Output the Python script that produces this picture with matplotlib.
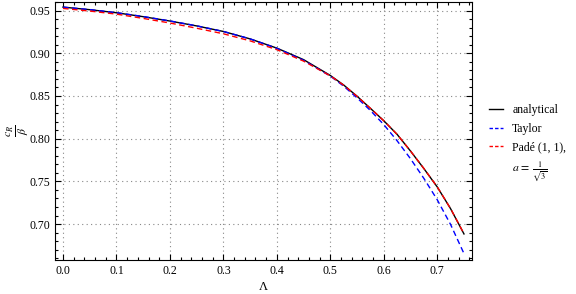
import numpy as np
import matplotlib
matplotlib.use("Agg")
import matplotlib.pyplot as plt
from matplotlib.lines import Line2D
from matplotlib.ticker import MultipleLocator, FormatStrFormatter

plt.rcParams['font.family'] = ['Liberation Serif', 'DejaVu Serif']
plt.rcParams['mathtext.fontset'] = 'stix'

# values
lam = [0.0, 0.05, 0.10, 0.15, 0.20, 0.25, 0.30, 0.35, 0.40, 0.45, 0.50,
       0.525, 0.55, 0.575, 0.60, 0.625, 0.65, 0.675, 0.70, 0.725, 0.75]
analytical = [0.9540, 0.9510, 0.9474, 0.9428, 0.9377, 0.9320, 0.9255, 0.9168, 0.9060, 0.8925, 0.8740,
              0.8628, 0.8497, 0.8355, 0.8210, 0.8050, 0.7855, 0.7650, 0.7435, 0.7180, 0.6885]
taylor = [0.9540, 0.9511, 0.9475, 0.9430, 0.9378, 0.9321, 0.9255, 0.9168, 0.9058, 0.8918, 0.8733,
          0.8615, 0.8478, 0.8330, 0.8165, 0.7975, 0.7765, 0.7535, 0.7285, 0.6995, 0.6655]
pade = [0.9525, 0.9494, 0.9458, 0.9408, 0.9354, 0.9293, 0.9228, 0.9145, 0.9042, 0.8908, 0.8735,
        0.8626, 0.8496, 0.8355, 0.8210, 0.8050, 0.7856, 0.7651, 0.7436, 0.7181, 0.6887]

fig = plt.figure(figsize=(5.76, 2.94), dpi=100)
ax = fig.add_axes([55/576, 34/294, 417/576, 258/294])

ax.plot(lam, analytical, color='black', lw=1.0)
ax.plot(lam, taylor, color='blue', lw=1.0, ls=(0, (4, 2.5)))
ax.plot(lam, pade, color='red', lw=1.0, ls=(0, (4, 2.5)))

ax.set_xlim(-0.015, 0.765)
ax.set_ylim(0.658, 0.960)

ax.xaxis.set_major_locator(MultipleLocator(0.1))
ax.xaxis.set_minor_locator(MultipleLocator(0.02))
ax.yaxis.set_major_locator(MultipleLocator(0.05))
ax.yaxis.set_minor_locator(MultipleLocator(0.01))
ax.xaxis.set_major_formatter(FormatStrFormatter('%.1f'))
ax.yaxis.set_major_formatter(FormatStrFormatter('%.2f'))

ax.tick_params(which='both', direction='in', top=True, right=True, labelsize=8.5, width=0.8)
ax.tick_params(which='major', length=4)
ax.tick_params(which='minor', length=2)
for s in ax.spines.values():
    s.set_linewidth(0.8)

ax.grid(True, which='major', color='#888888', ls=(0, (1, 3)), lw=0.8)

ax.set_xlabel('Λ', fontsize=9)
ax.xaxis.set_label_coords(0.5, -0.082)
ax.set_ylabel(r'$\frac{c_R}{\beta}$', fontsize=12)
ax.yaxis.set_label_coords(-0.058, 0.5)

handles = [Line2D([], [], color='black', lw=1.0),
           Line2D([], [], color='blue', lw=1.0, ls=(0, (2.5, 1.5))),
           Line2D([], [], color='red', lw=1.0, ls=(0, (2.5, 1.5))),
           Line2D([], [], color='none')]
labels = ['analytical', 'Taylor', 'Padé (1, 1),', r'$a\,=\,\frac{1}{\sqrt{3}}$']
fig.legend(handles, labels, loc='center left', bbox_to_anchor=(478/576, 0.51),
           frameon=False, fontsize=8.5, handlelength=1.2, handletextpad=0.8,
           labelspacing=0.55)

fig.savefig('out.png', dpi=100)
